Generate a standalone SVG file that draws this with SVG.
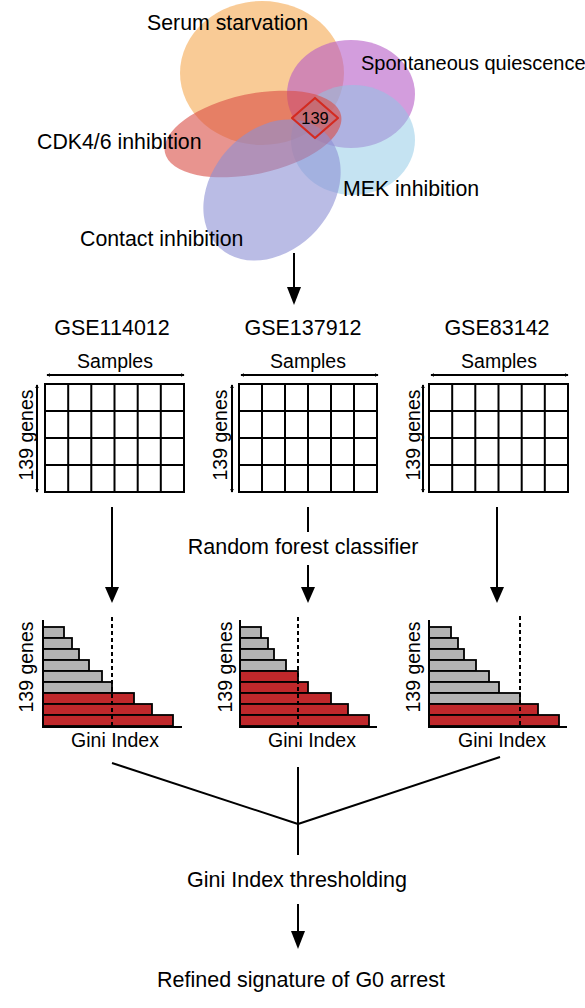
<svg xmlns="http://www.w3.org/2000/svg" width="585" height="1008" viewBox="0 0 585 1008">
<style>
text{font-family:"Liberation Sans",Arial,Helvetica,sans-serif;fill:#000}
.lbl{font-size:21.3px}
.gse{font-size:21.5px;text-anchor:middle}
.sm{font-size:19.5px;text-anchor:middle}
.ctr{font-size:21.5px;text-anchor:middle}
.grid{fill:#fff;stroke:#000;stroke-width:2}
.gl{stroke:#000;stroke-width:2;fill:none}
.ln{stroke:#000;stroke-width:2;fill:none}
.dash{stroke:#000;stroke-width:2;stroke-dasharray:4 3;fill:none}
.gray{fill:#b3b3b3;stroke:#000;stroke-width:1.8}
.red{fill:#c0282b;stroke:#000;stroke-width:1.8}
.head{fill:#000}
</style>
<defs>
<marker id="sa" viewBox="0 0 6 6" refX="5" refY="3" markerWidth="4" markerHeight="4" orient="auto-start-reverse" markerUnits="userSpaceOnUse">
<path d="M0,0 L6,3 L0,6 z" fill="#000"/>
</marker>
</defs>

<g id="venn">
<ellipse cx="262" cy="73" rx="82" ry="72" fill="#f5a850" fill-opacity="0.6"/>
<ellipse cx="351" cy="94" rx="64" ry="54" fill="#b55bc7" fill-opacity="0.6"/>
<ellipse cx="353" cy="140" rx="62" ry="55" fill="#8cc8e6" fill-opacity="0.5"/>
<ellipse cx="253" cy="134" rx="90" ry="40" transform="rotate(-12 253 134)" fill="#d94c45" fill-opacity="0.6"/>
<ellipse cx="272" cy="190" rx="78" ry="60" transform="rotate(-48 272 190)" fill="#8c90d4" fill-opacity="0.6"/>
<polygon points="315,98 338,118 315,138 292,118" fill="#c06060" fill-opacity="0.25" stroke="#d42a20" stroke-width="2.2" stroke-linejoin="round"/>
<text x="315" y="124" font-size="16.5" text-anchor="middle">139</text>
<text class="lbl" x="147" y="30">Serum starvation</text>
<text x="361" y="70" font-size="20px">Spontaneous quiescence</text>
<text class="lbl" x="37" y="149">CDK4/6 inhibition</text>
<text class="lbl" x="343" y="196">MEK inhibition</text>
<text class="lbl" x="80" y="246">Contact inhibition</text>
</g>

<g id="gse114012">
<text class="gse" x="112" y="335">GSE114012</text>
<text class="sm" x="115" y="368">Samples</text>
<line class="ln" x1="47" y1="375" x2="184" y2="375" marker-start="url(#sa)" marker-end="url(#sa)"/>
<line class="ln" x1="37" y1="385" x2="37" y2="492" marker-start="url(#sa)" marker-end="url(#sa)"/>
<text class="sm" transform="translate(33 435) rotate(-90)">139 genes</text>
<rect class="grid" x="45" y="384" width="139" height="108"/>
<path class="gl" d="M68.2,384V492M91.3,384V492M114.5,384V492M137.7,384V492M160.8,384V492M45,411H184M45,438H184M45,465H184"/>
</g>

<g id="gse137912">
<text class="gse" x="303" y="335">GSE137912</text>
<text class="sm" x="308" y="368">Samples</text>
<line class="ln" x1="241" y1="375" x2="378" y2="375" marker-start="url(#sa)" marker-end="url(#sa)"/>
<line class="ln" x1="232" y1="385" x2="232" y2="492" marker-start="url(#sa)" marker-end="url(#sa)"/>
<text class="sm" transform="translate(227 435) rotate(-90)">139 genes</text>
<rect class="grid" x="239" y="384" width="138" height="108"/>
<path class="gl" d="M262,384V492M285,384V492M308,384V492M331,384V492M354,384V492M239,411H377M239,438H377M239,465H377"/>
</g>

<g id="gse83142">
<text class="gse" x="497" y="335">GSE83142</text>
<text class="sm" x="499" y="368">Samples</text>
<line class="ln" x1="431" y1="375" x2="568" y2="375" marker-start="url(#sa)" marker-end="url(#sa)"/>
<line class="ln" x1="423" y1="385" x2="423" y2="492" marker-start="url(#sa)" marker-end="url(#sa)"/>
<text class="sm" transform="translate(420 435) rotate(-90)">139 genes</text>
<rect class="grid" x="429" y="384" width="139" height="108"/>
<path class="gl" d="M452.2,384V492M475.3,384V492M498.5,384V492M521.7,384V492M544.8,384V492M429,411H568M429,438H568M429,465H568"/>
</g>

<g id="rf-label">
<text class="ctr" x="303" y="554">Random forest classifier</text>
</g>

<g id="chart1">
<rect class="gray" x="43" y="627" width="21" height="11"/>
<rect class="gray" x="43" y="638" width="29" height="11"/>
<rect class="gray" x="43" y="649" width="36" height="11"/>
<rect class="gray" x="43" y="660" width="46" height="11"/>
<rect class="gray" x="43" y="671" width="59" height="11"/>
<rect class="gray" x="43" y="682" width="69" height="11"/>
<rect class="red" x="43" y="693" width="91" height="11"/>
<rect class="red" x="43" y="704" width="109" height="11"/>
<rect class="red" x="43" y="715" width="130" height="11"/>
<line class="dash" x1="112" y1="617" x2="112" y2="727"/>
<path class="ln" d="M43,620V727H182"/>
<text class="sm" transform="translate(33 667) rotate(-90)">139 genes</text>
<text class="sm" x="115" y="747">Gini Index</text>
</g>

<g id="chart2">
<rect class="gray" x="240" y="627" width="21" height="11"/>
<rect class="gray" x="240" y="638" width="28" height="11"/>
<rect class="gray" x="240" y="649" width="34" height="11"/>
<rect class="gray" x="240" y="660" width="46" height="11"/>
<rect class="red" x="240" y="671" width="58" height="11"/>
<rect class="red" x="240" y="682" width="68" height="11"/>
<rect class="red" x="240" y="693" width="91" height="11"/>
<rect class="red" x="240" y="704" width="108" height="11"/>
<rect class="red" x="240" y="715" width="129" height="11"/>
<line class="dash" x1="298" y1="617" x2="298" y2="727"/>
<path class="ln" d="M240,620V727H377"/>
<text class="sm" transform="translate(232 667) rotate(-90)">139 genes</text>
<text class="sm" x="312" y="747">Gini Index</text>
</g>

<g id="chart3">
<rect class="gray" x="429" y="627" width="22" height="11"/>
<rect class="gray" x="429" y="638" width="29" height="11"/>
<rect class="gray" x="429" y="649" width="35" height="11"/>
<rect class="gray" x="429" y="660" width="47" height="11"/>
<rect class="gray" x="429" y="671" width="60" height="11"/>
<rect class="gray" x="429" y="682" width="70" height="11"/>
<rect class="gray" x="429" y="693" width="91" height="11"/>
<rect class="red" x="429" y="704" width="109" height="11"/>
<rect class="red" x="429" y="715" width="130" height="11"/>
<line class="dash" x1="520" y1="616" x2="520" y2="727"/>
<path class="ln" d="M429,620V727H567"/>
<text class="sm" transform="translate(420 667) rotate(-90)">139 genes</text>
<text class="sm" x="502" y="747">Gini Index</text>
</g>

<g id="threshold-label">
<text class="ctr" x="297" y="887">Gini Index thresholding</text>
</g>
<g id="result-label">
<text class="ctr" x="301" y="987">Refined signature of G0 arrest</text>
</g>

<g id="connectors">
<line class="ln" x1="294" y1="253" x2="294" y2="290"/>
<polygon class="head" points="287,287 301,287 294,305"/>
<line class="ln" x1="112" y1="507" x2="112" y2="590"/>
<polygon class="head" points="105,587 119,587 112,603"/>
<line class="ln" x1="308" y1="507" x2="308" y2="532"/>
<line class="ln" x1="308" y1="565" x2="308" y2="590"/>
<polygon class="head" points="301,587 315,587 308,603"/>
<line class="ln" x1="497" y1="507" x2="497" y2="590"/>
<polygon class="head" points="490,587 504,587 497,603"/>
<line class="ln" x1="112" y1="763" x2="298" y2="824"/>
<line class="ln" x1="500" y1="757" x2="298" y2="824"/>
<line class="ln" x1="298" y1="767" x2="298" y2="855"/>
<line class="ln" x1="298" y1="904" x2="298" y2="934"/>
<polygon class="head" points="291,931 305,931 298,949"/>
</g>
</svg>
